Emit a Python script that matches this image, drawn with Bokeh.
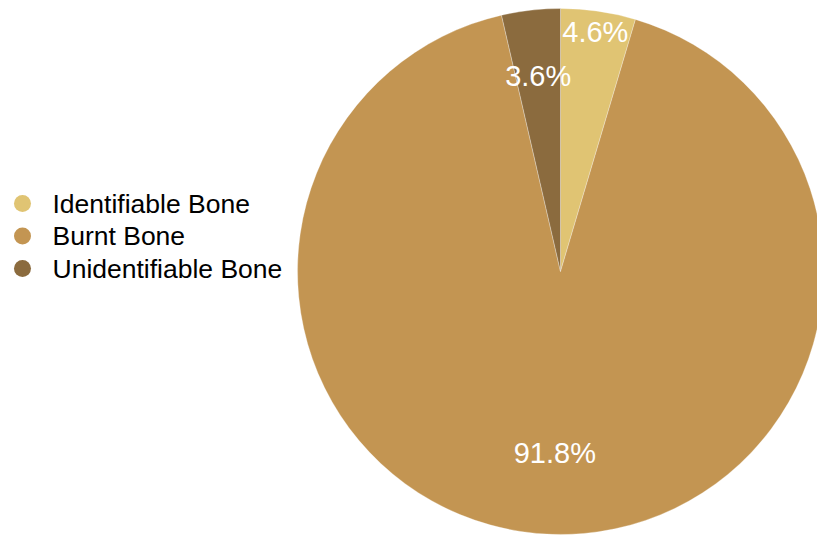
import math
from bokeh.plotting import figure
from bokeh.models import Range1d, ColumnDataSource
from bokeh.core.properties import value
from bokeh.embed import file_html
from bokeh.resources import INLINE

categories = ["Identifiable Bone", "Burnt Bone", "Unidentifiable Bone"]
percents = [4.6, 91.8, 3.6]
colors = ["#E0C473", "#C39552", "#8B6B3E"]

W, H = 817, 536
cx, cy, R = 560, H - 271, 263
label_frac = [0.92, 0.69, 0.75]  # label radius fraction per slice

total = sum(percents)
starts, ends, lx, ly, labels = [], [], [], [], []
a = math.pi / 2
for i, v in enumerate(percents):
    sweep = v / total * 2 * math.pi
    starts.append(a)
    ends.append(a - sweep)
    mid = a - sweep / 2
    lx.append(cx + label_frac[i] * R * math.cos(mid))
    ly.append(cy + label_frac[i] * R * math.sin(mid))
    labels.append(f"{v:.1f}%")
    a -= sweep

p = figure(width=W, height=H, output_backend="svg", toolbar_location=None,
           x_range=Range1d(0, W), y_range=Range1d(0, H), min_border=0)
p.axis.visible = False
p.grid.visible = False
p.outline_line_color = None
p.background_fill_color = "white"

src = ColumnDataSource(dict(start=starts, end=ends, color=colors, cat=categories,
                            lx=lx, ly=ly, lab=labels))
p.wedge(x=cx, y=cy, radius=R, start_angle="start", end_angle="end",
        direction="clock", fill_color="color", line_color="white",
        line_width=0.6, line_alpha=0.5, source=src)
p.text(x="lx", y="ly", text="lab", source=src, text_color="white",
       text_font=value("Liberation Sans"), text_font_size="29px",
       text_align="center", text_baseline="middle")

leg_y = [H - 203 - i * 32.5 for i in range(len(categories))]
leg = ColumnDataSource(dict(y=leg_y, cat=categories, color=colors))
p.scatter(x=22, y="y", size=17, marker="circle", fill_color="color",
          line_color=None, source=leg)
p.text(x=52, y="y", text="cat", source=leg, text_color="black",
       text_font=value("Liberation Sans"), text_font_size="26.5px",
       text_align="left", text_baseline="middle")

open("out.html", "w").write(file_html(p, INLINE))
